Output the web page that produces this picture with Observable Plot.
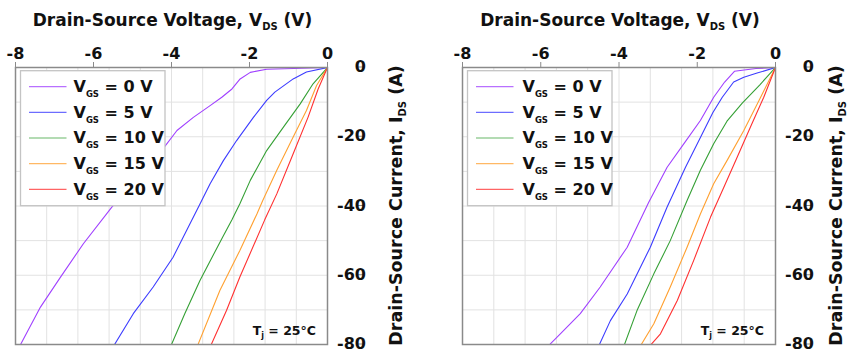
<!DOCTYPE html>
<html><head><meta charset="utf-8">
<script src="https://cdn.jsdelivr.net/npm/d3@7"></script>
<script src="https://cdn.jsdelivr.net/npm/@observablehq/plot@0.6"></script>
<style>
body{margin:0;background:#fff;overflow:hidden}
#wrap{position:relative;width:851px;height:351px}
#wrap svg{position:absolute;top:0}
</style></head><body><div id="wrap"></div>
<script>
// ---- labels / categories ----
const gateVoltages = ["0", "5", "10", "15", "20"];
const seriesNames = gateVoltages.map(g => `VGS = ${g} V`);
const seriesColors = ["#a040ff", "#3c3cff", "#35a035", "#ffa030", "#ff3030"];
const xTicks = [-8, -6, -4, -2, 0];
const yTicks = [0, -20, -40, -60, -80];
const xGrid = [-7.2, -6.4, -5.6, -4.8, -4.0, -3.2, -2.4, -1.6, -0.8];
const yGrid = [-70, -60, -50, -40, -30, -20, -10];
const xTitle = ["Drain-Source Voltage, V", "DS", " (V)"];
const yTitle = ["Drain-Source Current, I", "DS", " (A)"];
const tempNote = ["T", "j", " = 25°C"];

// ---- left panel curves: [VDS (V), IDS (A)] ----
const leftVgs0 = [[0,0],[-0.87,-0.3],[-1.56,-0.5],[-1.98,-1.4],[-2.24,-3.3],[-2.45,-6.2],[-2.71,-8.6],[-3.01,-11],[-3.44,-14.4],[-3.86,-18.2],[-4.17,-22.8],[-5.53,-40.3],[-6.26,-50.9],[-6.85,-60.6],[-7.36,-69.2],[-7.87,-80]];
const leftVgs5 = [[0,0],[-0.54,-1.3],[-0.88,-3.3],[-1.35,-7.1],[-1.56,-9.5],[-1.90,-14.4],[-2.33,-21.1],[-2.67,-26.9],[-3.01,-33.6],[-3.27,-39.4],[-3.96,-54.8],[-4.47,-63.4],[-4.98,-71.1],[-5.46,-80]];
const leftVgs10 = [[0,0],[-0.37,-4.7],[-0.70,-10.5],[-1.13,-17.2],[-1.56,-24.0],[-1.98,-32.6],[-2.25,-39.4],[-2.45,-44.0],[-2.69,-49.0],[-3.27,-61.5],[-3.66,-71.1],[-4.0,-80]];
const leftVgs15 = [[0,0],[-0.28,-5.2],[-0.54,-12.4],[-0.88,-20.1],[-1.30,-29.7],[-1.66,-38.4],[-1.81,-42.3],[-2.25,-52.9],[-2.76,-64.4],[-3.32,-80]];
const leftVgs20 = [[0,0],[-0.24,-6.2],[-0.50,-14.4],[-0.88,-24.9],[-1.30,-36.5],[-1.61,-44.0],[-2.25,-60.6],[-2.59,-70.2],[-2.98,-80]];

// ---- right panel curves ----
const rightVgs0 = [[0,0],[-0.5,-0.3],[-1.05,-1.1],[-1.3,-4.2],[-1.58,-8.6],[-1.92,-15.3],[-2.34,-22.0],[-2.77,-28.8],[-3.24,-38.9],[-3.79,-51.9],[-4.48,-63.4],[-4.99,-71.1],[-5.50,-76.9],[-5.77,-80]];
const rightVgs5 = [[0,0],[-0.47,-1.6],[-0.81,-2.8],[-1.07,-4.2],[-1.36,-8.6],[-1.60,-13.0],[-1.90,-19.8],[-2.30,-28.8],[-2.77,-40.3],[-3.20,-51.9],[-3.79,-65.4],[-4.22,-73.1],[-4.50,-80]];
const rightVgs10 = [[0,0],[-0.40,-5.0],[-0.85,-10.3],[-1.24,-15.5],[-1.58,-22.0],[-1.92,-29.7],[-2.26,-38.4],[-2.69,-50.0],[-3.11,-59.6],[-3.54,-70.2],[-3.86,-80]];
const rightVgs15 = [[0,0],[-0.38,-8.6],[-0.81,-18.2],[-1.24,-26.9],[-1.58,-33.6],[-1.92,-42.3],[-2.26,-51.9],[-2.69,-63.4],[-3.11,-74.0],[-3.43,-80]];
const rightVgs20 = [[0,0],[-0.30,-8.6],[-0.64,-17.2],[-0.98,-25.9],[-1.32,-34.6],[-1.66,-43.2],[-2.09,-55.7],[-2.51,-67.3],[-2.94,-76.9],[-3.18,-80]];

const FONT = "'DejaVu Sans', sans-serif";

function addRich(sel, parts, subSize, subDy) {
  parts.forEach((p, k) => {
    const ts = sel.append("tspan").text(p);
    if (k === 1) ts.attr("font-size", subSize).attr("dy", subDy);
    if (k === 2) ts.attr("dy", -subDy);
  });
}

function panel(curves, opt) {
  const data = curves.flatMap((pts, k) => pts.map(([v, i]) => ({v, i, s: seriesNames[k]})));
  const fr = opt.width - opt.marginRight;
  const plot = Plot.plot({
    width: opt.width, height: 351,
    marginTop: 67, marginBottom: 7, marginLeft: 15, marginRight: opt.marginRight,
    x: {domain: [-8, 0]},
    y: {domain: [-80, 0]},
    color: {domain: seriesNames, range: seriesColors},
    style: {fontFamily: FONT, fontWeight: "bold", fontSize: "16px", color: "#111", background: "transparent"},
    marks: [
      Plot.gridX(xGrid, {stroke: "#e2e2e2", strokeOpacity: 1}),
      Plot.gridY(yGrid, {stroke: "#e2e2e2", strokeOpacity: 1}),
      Plot.line(data, {x: "v", y: "i", stroke: "s", z: "s", strokeWidth: 1.1, clip: true}),
      Plot.frame({stroke: "#8a8a8a", strokeWidth: 1.5}),
      Plot.axisX(xTicks, {anchor: "top", tickSize: 6, tickPadding: 3, stroke: "#8a8a8a", fill: "#111", tickFormat: d => String(d), label: null}),
      Plot.axisY(yTicks, {anchor: "right", tickSize: 6, textAnchor: "end", dx: 29.5, dy: -0.5, stroke: "#8a8a8a", fill: "#111", tickFormat: d => String(d), label: null})
    ]
  });
  const svg = d3.select(plot);
  svg.style("left", opt.left + "px");
  // x title
  const xt = svg.append("text").attr("x", (15 + fr) / 2 + 1.5).attr("y", 26)
    .attr("text-anchor", "middle").attr("font-size", 17).attr("font-weight", "bold").attr("fill", "#111");
  addRich(xt, xTitle, 10, 4);
  // y title
  const yt = svg.append("text").attr("transform", `translate(${fr + opt.yTitleOff},${(67 + 344) / 2}) rotate(-90)`)
    .attr("text-anchor", "middle").attr("font-size", 17.5).attr("font-weight", "bold").attr("fill", "#111");
  addRich(yt, yTitle, 10, 4);
  // temperature note
  const tn = svg.append("text").attr("x", fr - 11).attr("y", 335)
    .attr("text-anchor", "end").attr("font-size", 12.5).attr("font-weight", "bold").attr("fill", "#111");
  addRich(tn, tempNote, 8, 3);
  // legend
  const lg = svg.append("g").attr("transform", "translate(20.5,70.7)");
  lg.append("rect").attr("width", 144.5).attr("height", 135).attr("fill", "#fff").attr("stroke", "#c4c4c4").attr("stroke-width", 1.3);
  seriesNames.forEach((n, k) => {
    const yy = 16 + k * 25.65;
    lg.append("line").attr("x1", 8.5).attr("x2", 46).attr("y1", yy).attr("y2", yy)
      .attr("stroke", seriesColors[k]).attr("stroke-opacity", 0.75).attr("stroke-width", 1.2);
    const t = lg.append("text").attr("x", opt.legendText).attr("y", yy + 5.5).attr("text-anchor", "start")
      .attr("font-size", 16).attr("font-weight", "bold").attr("fill", "#111");
    addRich(t, ["V", "GS", ` = ${gateVoltages[k]} V`], 8.5, 5);
  });
  return plot;
}

const wrap = document.getElementById("wrap");
wrap.append(panel([leftVgs0, leftVgs5, leftVgs10, leftVgs15, leftVgs20], {left: 0, width: 447, marginRight: 120, yTitleOff: 75, legendText: 53}));
wrap.append(panel([rightVgs0, rightVgs5, rightVgs10, rightVgs15, rightVgs20], {left: 447, width: 404, marginRight: 76, yTitleOff: 67, legendText: 55}));
</script></body></html>
